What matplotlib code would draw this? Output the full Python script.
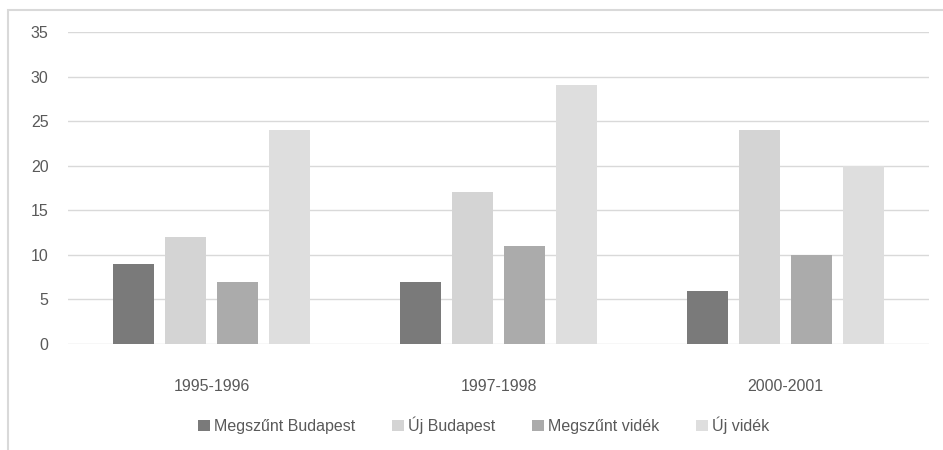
import numpy as np
import matplotlib.pyplot as plt
from matplotlib.patches import Rectangle

periods = ['1995-1996', '1997-1998', '2000-2001']
series = ['Megszűnt Budapest', 'Új Budapest', 'Megszűnt vidék', 'Új vidék']
megszunt_bp = [9, 7, 6]
uj_bp = [12, 17, 24]
megszunt_videk = [7, 11, 10]
uj_videk = [24, 29, 20]
colors = ['#7a7a7a', '#d4d4d4', '#ababab', '#dedede']

plt.rcParams['font.family'] = ['Liberation Sans Narrow', 'Liberation Sans', 'DejaVu Sans']
txt = '#595959'

fig = plt.figure(figsize=(9.43, 4.5), dpi=100)
ax = fig.add_axes([68/943, 1-344/450, 861/943, 312/450])

x = np.arange(len(periods))
step = 52/287
width = 41/287
values = [megszunt_bp, uj_bp, megszunt_videk, uj_videk]
for i, (name, vals) in enumerate(zip(series, values)):
    ax.bar(x + (i - 1.5)*step, vals, width, color=colors[i], label=name, zorder=3)

ax.set_xlim(-0.5, 2.5)
ax.set_ylim(0, 35)
ax.set_yticks(range(0, 36, 5))
ax.set_xticks(x)
ax.set_xticklabels(periods)
ax.yaxis.grid(True, color='#d9d9d9', linewidth=1, zorder=0)
for s in ax.spines.values():
    s.set_visible(False)
ax.tick_params(length=0, colors=txt, labelsize=11.5)
ax.tick_params(axis='x', pad=25)
ax.tick_params(axis='y', pad=14)

fig.legend(loc='center', bbox_to_anchor=(484/943, 1-425/450), ncol=4, frameon=False,
           fontsize=11.5, labelcolor=txt, handlelength=0.7, handleheight=0.7,
           handletextpad=0.3, columnspacing=2.3)

fig.patches.append(Rectangle((8/943, -0.1), 1.0, 1.1 - 10/450, transform=fig.transFigure,
                             fill=False, edgecolor='#d9d9d9', linewidth=1.5))

fig.savefig('out.png', dpi=100)
